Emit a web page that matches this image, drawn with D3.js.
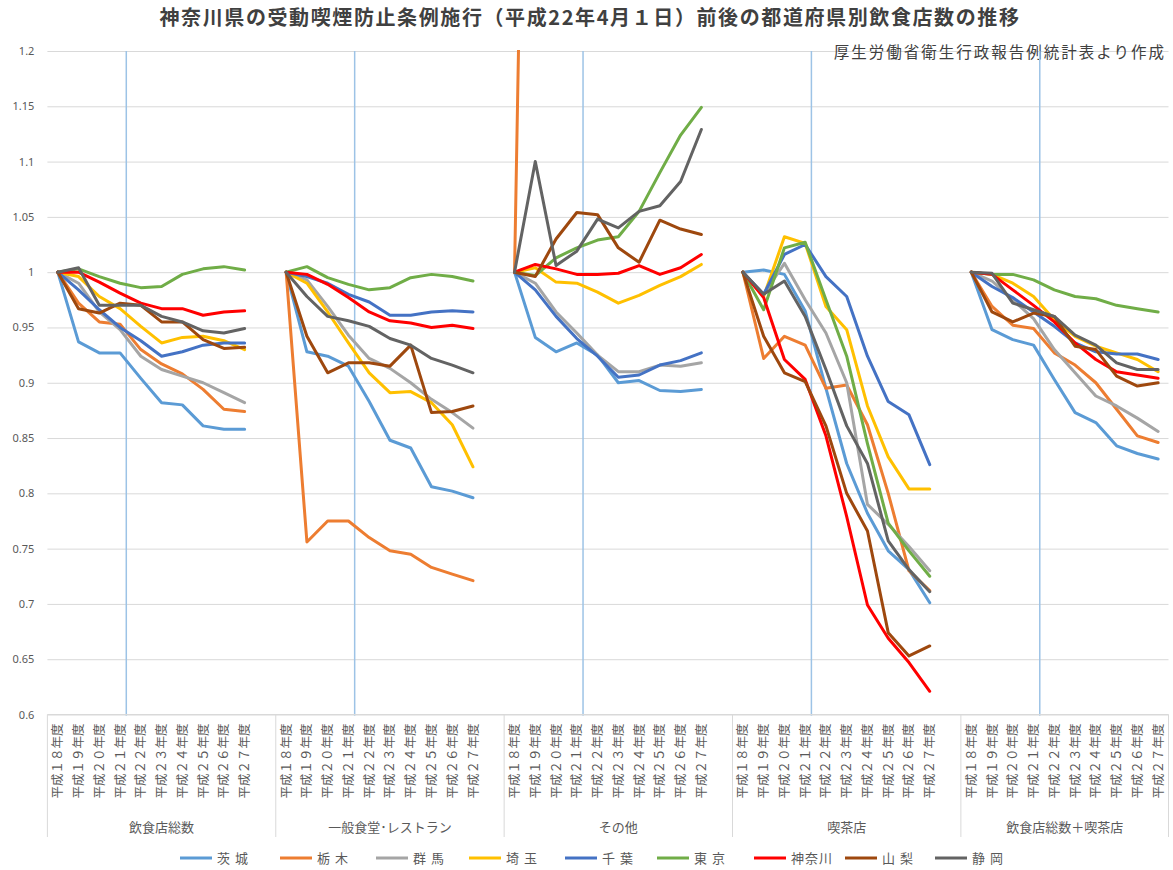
<!DOCTYPE html>
<html>
<head>
<meta charset="utf-8">
<script src="https://cdn.jsdelivr.net/npm/d3@7"></script>
<style>
  body { margin: 0; background: #fff; }
  text { font-family: "Noto Sans CJK JP", "Noto Sans", sans-serif; }
</style>
</head>
<body>
<div id="chart"></div>
<script>
// 平成18年度を1とした指数
var groups = ['飲食店総数', '一般食堂･レストラン', 'その他', '喫茶店', '飲食店総数＋喫茶店'];
var years = ['平成１８年度', '平成１９年度', '平成２０年度', '平成２１年度', '平成２２年度',
             '平成２３年度', '平成２４年度', '平成２５年度', '平成２６年度', '平成２７年度'];
var prefs = ['茨 城', '栃 木', '群 馬', '埼 玉', '千 葉', '東 京', '神奈川', '山 梨', '静 岡'];
var yTicks = [0.6, 0.65, 0.7, 0.75, 0.8, 0.85, 0.9, 0.95, 1, 1.05, 1.1, 1.15, 1.2];
var enforcementIndex = 3.3; // 平成22年4月1日

var ibaraki = [
  1, 0.937, 0.927, 0.927, 0.904, 0.882, 0.880, 0.861, 0.858, 0.858,
  1, 0.928, 0.924, 0.915, 0.883, 0.848, 0.841, 0.806, 0.802, 0.796,
  1, 0.941, 0.928, 0.936, 0.925, 0.900, 0.902, 0.893, 0.892, 0.894,
  1, 1.002, 0.998, 0.965, 0.895, 0.827, 0.782, 0.748, 0.731, 0.701,
  1, 0.948, 0.939, 0.934, 0.903, 0.873, 0.864, 0.843, 0.836, 0.831];
var tochigi = [
  1, 0.972, 0.955, 0.953, 0.930, 0.917, 0.908, 0.894, 0.876, 0.874,
  1, 0.756, 0.775, 0.775, 0.760, 0.748, 0.745, 0.733, 0.727, 0.721,
  1, 2.05, 2.10, 2.12, 2.15, 2.18, 2.20, 2.22, 2.25, 2.28,
  1, 0.922, 0.942, 0.934, 0.895, 0.898, 0.862, 0.800, 0.730, 0.712,
  1, 0.969, 0.952, 0.949, 0.927, 0.916, 0.900, 0.876, 0.852, 0.846];
var gunma = [
  1, 0.990, 0.964, 0.948, 0.924, 0.912, 0.906, 0.900, 0.891, 0.882,
  1, 0.993, 0.969, 0.943, 0.922, 0.913, 0.900, 0.885, 0.873, 0.859,
  1, 0.990, 0.964, 0.945, 0.925, 0.910, 0.910, 0.916, 0.915, 0.918,
  1, 0.980, 1.008, 0.975, 0.945, 0.900, 0.790, 0.772, 0.752, 0.730,
  1, 0.992, 0.975, 0.958, 0.930, 0.909, 0.888, 0.879, 0.868, 0.856];
var saitama = [
  1, 0.996, 0.978, 0.967, 0.951, 0.936, 0.941, 0.942, 0.938, 0.930,
  1, 0.990, 0.964, 0.936, 0.909, 0.891, 0.892, 0.882, 0.862, 0.824,
  1, 1.004, 0.991, 0.990, 0.982, 0.972, 0.979, 0.988, 0.996, 1.007,
  1, 0.978, 1.032, 1.026, 0.969, 0.948, 0.879, 0.833, 0.804, 0.804,
  1, 0.998, 0.990, 0.978, 0.957, 0.942, 0.933, 0.927, 0.921, 0.910];
var chiba = [
  1, 0.984, 0.966, 0.950, 0.938, 0.924, 0.928, 0.934, 0.936, 0.936,
  1, 0.996, 0.990, 0.980, 0.973, 0.961, 0.961, 0.964, 0.965, 0.964,
  1, 0.984, 0.960, 0.940, 0.924, 0.905, 0.907, 0.916, 0.920, 0.927,
  1, 0.980, 1.016, 1.025, 0.996, 0.978, 0.924, 0.883, 0.871, 0.826,
  1, 0.987, 0.977, 0.964, 0.951, 0.936, 0.928, 0.926, 0.926, 0.921];
var tokyo = [
  1, 1.003, 0.996, 0.990, 0.986, 0.987, 0.998, 1.003, 1.005, 1.002,
  1, 1.005, 0.995, 0.989, 0.984, 0.986, 0.995, 0.998, 0.996, 0.992,
  1, 0.997, 1.013, 1.022, 1.029, 1.032, 1.055, 1.090, 1.124, 1.149,
  1, 0.966, 1.022, 1.027, 0.975, 0.924, 0.845, 0.773, 0.748, 0.725,
  1, 0.998, 0.998, 0.993, 0.984, 0.978, 0.976, 0.970, 0.967, 0.964];
var kanagawa = [
  1, 1.000, 0.991, 0.981, 0.972, 0.967, 0.967, 0.961, 0.964, 0.965,
  1, 0.998, 0.989, 0.977, 0.964, 0.956, 0.954, 0.950, 0.952, 0.949,
  1, 1.007, 1.003, 0.998, 0.998, 0.999, 1.006, 0.998, 1.004, 1.016,
  1, 0.977, 0.921, 0.903, 0.852, 0.779, 0.699, 0.669, 0.647, 0.621,
  1, 0.998, 0.984, 0.970, 0.955, 0.936, 0.921, 0.910, 0.907, 0.904];
var yamanashi = [
  1, 0.967, 0.963, 0.972, 0.970, 0.955, 0.955, 0.939, 0.931, 0.932,
  1, 0.942, 0.909, 0.918, 0.918, 0.915, 0.934, 0.873, 0.874, 0.879,
  1, 0.996, 1.030, 1.054, 1.052, 1.022, 1.009, 1.047, 1.039, 1.034,
  1, 0.942, 0.909, 0.901, 0.861, 0.800, 0.766, 0.674, 0.653, 0.662,
  1, 0.964, 0.955, 0.963, 0.960, 0.933, 0.930, 0.906, 0.897, 0.900];
var shizuoka = [
  1, 1.004, 0.970, 0.970, 0.970, 0.960, 0.955, 0.947, 0.945, 0.949,
  1, 0.978, 0.960, 0.956, 0.951, 0.940, 0.934, 0.922, 0.916, 0.909,
  1, 1.100, 1.006, 1.019, 1.048, 1.040, 1.055, 1.060, 1.082, 1.129,
  1, 0.980, 0.992, 0.960, 0.912, 0.861, 0.827, 0.757, 0.731, 0.711,
  1, 0.999, 0.972, 0.966, 0.960, 0.943, 0.934, 0.918, 0.912, 0.912];

var seriesValues = [ibaraki, tochigi, gunma, saitama, chiba, tokyo, kanagawa, yamanashi, shizuoka];
var colors = ['#5B9BD5', '#ED7D31', '#A5A5A5', '#FFC000', '#4472C4', '#70AD47', '#FF0000', '#9E480E', '#636363'];

var width = 1173, height = 870;
var plotLeft = 47.4, plotRight = 1168.5, plotTop = 51, plotBottom = 714.5;
var textColor = '#595959', gridColor = '#D9D9D9';
var legendX = [180, 280, 376, 469, 565, 657, 754, 845, 935];

var svg = d3.select('#chart').append('svg')
  .attr('width', width).attr('height', height);

// category slots: 10 years per group plus a blank slot between groups
var slots = [];
groups.forEach(function(g, gi) {
  years.forEach(function(yr, i) { slots.push(gi + '-' + i); });
  if (gi < groups.length - 1) slots.push(gi + '-gap');
});

var x = d3.scaleBand().domain(slots).range([plotLeft, plotRight]).padding(0);
var y = d3.scaleLinear().domain([0.6, 1.2]).range([plotBottom, plotTop]);
var bw = x.bandwidth();
var xAt = function(gi, i) { return x(gi + '-' + i) + bw / 2; };

// title
svg.append('text')
  .attr('x', 590).attr('y', 25)
  .attr('text-anchor', 'middle')
  .style('font-size', '20px').style('font-weight', 'bold')
  .style('letter-spacing', '1.6px')
  .style('fill', '#404040')
  .text('神奈川県の受動喫煙防止条例施行（平成22年4月１日）前後の都道府県別飲食店数の推移');

// y axis + gridlines
var yAxis = svg.append('g')
  .attr('transform', 'translate(' + plotLeft + ',0)')
  .call(d3.axisLeft(y).tickValues(yTicks).tickFormat(d3.format('~g'))
    .tickSize(-(plotRight - plotLeft)).tickPadding(13));
yAxis.select('.domain').remove();
yAxis.selectAll('line').attr('stroke', gridColor).attr('stroke-width', 1);
yAxis.selectAll('text').style('font-size', '11px').style('fill', textColor)
  .style('font-family', '"Noto Sans", sans-serif');

// source note
svg.append('text')
  .attr('x', 1166).attr('y', 58)
  .attr('text-anchor', 'end')
  .style('font-size', '15.5px').style('letter-spacing', '2px')
  .style('fill', '#404040')
  .text('厚生労働省衛生行政報告例統計表より作成');

// enforcement lines
svg.append('g').selectAll('line')
  .data(groups).enter().append('line')
  .attr('x1', function(d, gi) { return x(gi + '-3') + bw * (0.5 + enforcementIndex - 3); })
  .attr('x2', function(d, gi) { return x(gi + '-3') + bw * (0.5 + enforcementIndex - 3); })
  .attr('y1', plotTop).attr('y2', plotBottom + 1)
  .attr('stroke', '#9DC3E6').attr('stroke-width', 1.5);

// x axis
svg.append('line')
  .attr('x1', plotLeft).attr('x2', plotRight).attr('y1', plotBottom).attr('y2', plotBottom)
  .attr('stroke', gridColor);

var bounds = groups.map(function(g, gi) { return x(gi + '-0'); }).concat([plotRight]);
svg.append('g').selectAll('line')
  .data(bounds).enter().append('line')
  .attr('x1', function(d) { return d; }).attr('x2', function(d) { return d; })
  .attr('y1', plotBottom).attr('y2', 837)
  .attr('stroke', gridColor);

var catLabels = [];
groups.forEach(function(g, gi) {
  years.forEach(function(yr, i) { catLabels.push({gi: gi, i: i, label: yr}); });
});
svg.append('g').selectAll('text')
  .data(catLabels).enter().append('text')
  .attr('transform', function(d) { return 'translate(' + (xAt(d.gi, d.i) + 4.5) + ',' + (plotBottom + 9) + ') rotate(-90)'; })
  .attr('text-anchor', 'end')
  .style('font-size', '12.5px').style('fill', textColor)
  .text(function(d) { return d.label; });

svg.append('g').selectAll('text')
  .data(groups).enter().append('text')
  .attr('x', function(d, gi) { return (bounds[gi] + bounds[gi + 1]) / 2; })
  .attr('y', 832)
  .attr('text-anchor', 'middle')
  .style('font-size', '13px').style('fill', textColor)
  .text(function(d) { return d; });

// lines
svg.append('clipPath').attr('id', 'plotclip')
  .append('rect').attr('x', plotLeft).attr('y', plotTop - 1)
  .attr('width', plotRight - plotLeft).attr('height', plotBottom - plotTop + 1);

var line = d3.line()
  .x(function(d) { return xAt(d.gi, d.i); })
  .y(function(d) { return y(d.v); });

var plotG = svg.append('g').attr('clip-path', 'url(#plotclip)');
seriesValues.forEach(function(vals, si) {
  groups.forEach(function(g, gi) {
    var pts = years.map(function(yr, i) { return {gi: gi, i: i, v: vals[gi * 10 + i]}; });
    plotG.append('path')
      .datum(pts)
      .attr('d', line)
      .attr('fill', 'none')
      .attr('stroke', colors[si])
      .attr('stroke-width', 3)
      .attr('stroke-linejoin', 'round')
      .attr('stroke-linecap', 'round');
  });
});

// legend
var legend = svg.append('g').selectAll('g')
  .data(prefs).enter().append('g')
  .attr('transform', function(d, i) { return 'translate(' + legendX[i] + ',858)'; });
legend.append('line')
  .attr('x1', 0).attr('x2', 32).attr('y1', 0).attr('y2', 0)
  .attr('stroke', function(d, i) { return colors[i]; })
  .attr('stroke-width', 3);
legend.append('text')
  .attr('x', 37).attr('y', 4.5)
  .style('font-size', '13px').style('fill', textColor)
  .style('letter-spacing', '1px')
  .text(function(d) { return d; });
</script>
</body>
</html>
